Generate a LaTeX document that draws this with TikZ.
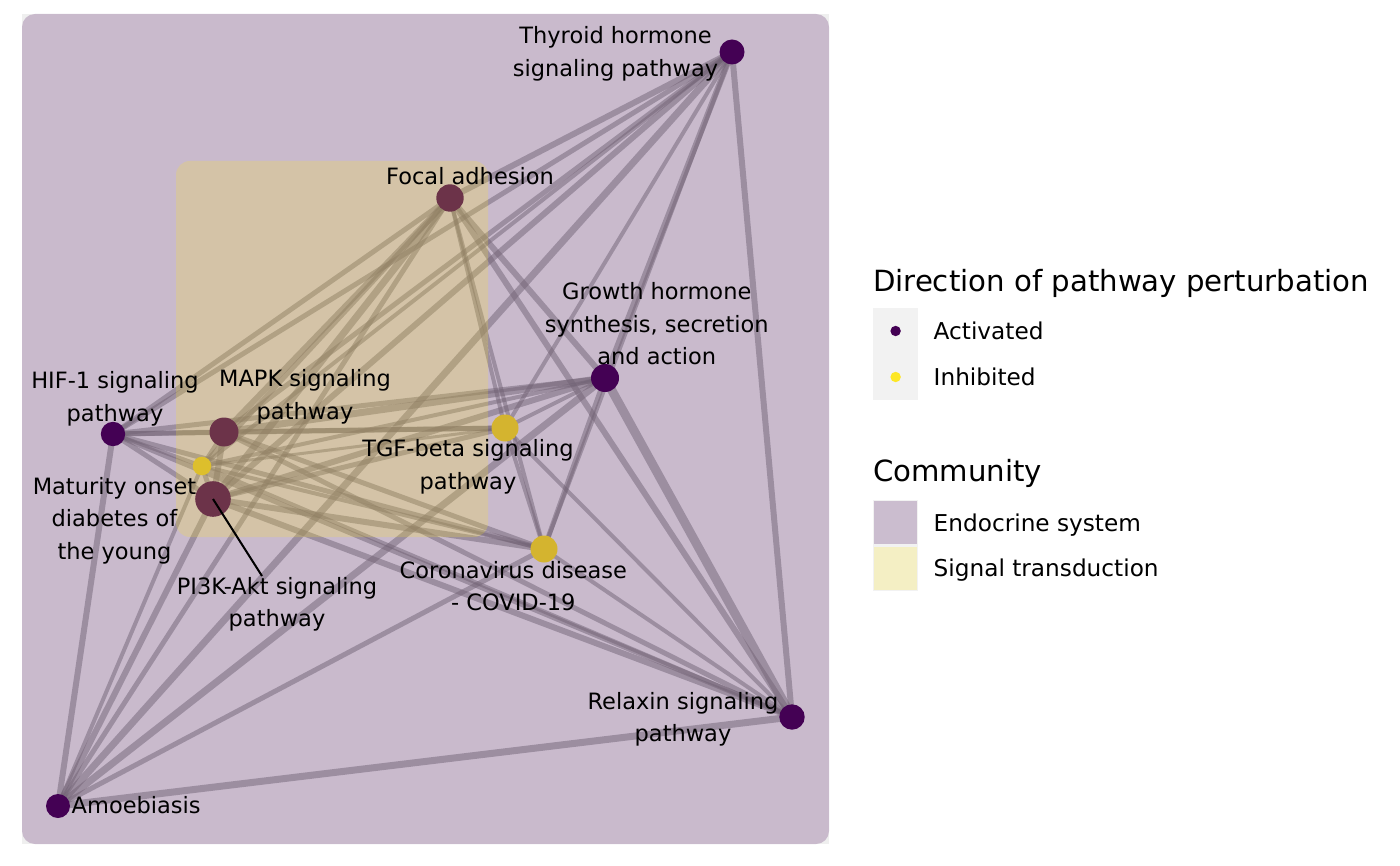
\documentclass[tikz,border=0pt]{standalone}
\usepackage{fontspec}
\setmainfont{DejaVu Sans}
\pgfdeclarelayer{bglayer}
\pgfdeclarelayer{edgelayer}
\pgfdeclarelayer{hulllayer}
\pgfdeclarelayer{toplayer}
\pgfsetlayers{bglayer,edgelayer,main,hulllayer,toplayer}
\definecolor{act}{HTML}{440154}
\definecolor{inh}{HTML}{FDE725}
\definecolor{panelbg}{HTML}{EFEFEF}
\definecolor{keybg}{HTML}{F2F2F2}
\definecolor{edgecol}{HTML}{7F7F7F}
\tikzset{
  pnode/.style={circle, inner sep=0pt, draw=none},
  lbl/.style={anchor=base, inner sep=0pt, font=\fontsize{22.5}{26}\selectfont},
  lgtitle/.style={anchor=base west, inner sep=0pt, font=\fontsize{29.2}{34}\selectfont},
  lgtext/.style={anchor=base west, inner sep=0pt, font=\fontsize{23.2}{27}\selectfont},
  edge/.style={draw=edgecol, draw opacity=0.5},
  hullfill/.style={fill opacity=0.22}
}
\begin{document}
\begin{tikzpicture}[x=1pt,y=-1pt]
\useasboundingbox (0,0) rectangle (1400,866);
\begin{pgfonlayer}{bglayer}
\fill[white] (0,0) rectangle (1400,866);
\fill[panelbg] (22,14) rectangle (829,844);
\end{pgfonlayer}

% pathway nodes
\node[pnode, fill=act, minimum size=25pt]   (T) at (732,52) {};
\node[pnode, fill=act, minimum size=27.4pt] (F) at (450,198) {};
\node[pnode, fill=act, minimum size=28pt]   (G) at (605,378) {};
\node[pnode, fill=act, minimum size=24.4pt] (H) at (113,434) {};
\node[pnode, fill=act, minimum size=29pt]   (M) at (224,432) {};
\node[pnode, fill=inh, minimum size=27pt]   (B) at (505,428) {};
\node[pnode, fill=inh, minimum size=18.6pt] (D) at (202,466) {};
\node[pnode, fill=act, minimum size=35.6pt] (P) at (213,499) {};
\node[pnode, fill=inh, minimum size=27pt]   (C) at (544,549) {};
\node[pnode, fill=act, minimum size=25.4pt] (R) at (792,717) {};
\node[pnode, fill=act, minimum size=24pt]   (A) at (58,806) {};

% edges
\begin{pgfonlayer}{edgelayer}
\foreach \a/\b/\w in {T/R/6, T/G/6, T/C/4, T/B/4, T/F/6, T/H/5, T/M/5, T/P/6, T/D/4, T/A/7,
  F/H/5, F/M/6, F/P/7, F/D/5, F/A/5, F/B/4, F/C/4, F/G/6, F/R/6,
  G/H/5, G/M/7, G/P/6, G/D/4, G/B/4, G/C/5, G/R/9, G/A/7,
  H/M/5, H/B/5, H/P/5, H/D/4, H/C/5, H/R/5, H/A/6,
  M/B/5, M/P/6, M/D/4, M/C/5, M/R/5,
  P/B/5, P/D/5, P/C/6, P/R/6, P/A/6,
  D/B/3, D/C/4, D/R/4, D/A/4,
  B/C/4, B/R/4, C/R/4, C/A/5, R/A/7}
  \draw[edge, line width=\w pt] (\a.center) -- (\b.center);
\end{pgfonlayer}

% community hulls
\begin{pgfonlayer}{hulllayer}
\fill[act, hullfill, rounded corners=13pt] (22,14) rectangle (829,844);
\fill[inh, hullfill, rounded corners=14pt] (176,161) rectangle (488,537);
\end{pgfonlayer}

% labels
\begin{pgfonlayer}{toplayer}
\coordinate (pilead) at (262,576);
\draw[black, line width=2pt] (P.center) -- (pilead);
\node[lbl] (tl1) at (615.5,43.3) {Thyroid hormone};
\node[lbl] (tl2) at (615.5,76.3) {signaling pathway};
\node[lbl] (fl1) at (470,185) {Focal adhesion};
\node[lbl] (gl1) at (656.7,300) {Growth hormone};
\node[lbl] (gl2) at (656.7,332.5) {synthesis, secretion};
\node[lbl] (gl3) at (656.7,365) {and action};
\node[lbl] (hl1) at (115,388.5) {HIF-1 signaling};
\node[lbl] (hl2) at (115,421) {pathway};
\node[lbl] (ml1) at (305,387) {MAPK signaling};
\node[lbl] (ml2) at (305,419.5) {pathway};
\node[lbl] (bl1) at (468,456.7) {TGF-beta signaling};
\node[lbl] (bl2) at (468,489.3) {pathway};
\node[lbl] (dl1) at (114.5,494) {Maturity onset};
\node[lbl] (dl2) at (114.5,526.7) {diabetes of};
\node[lbl] (dl3) at (114.5,559.3) {the young};
\node[lbl] (pl1) at (277,594) {PI3K-Akt signaling};
\node[lbl] (pl2) at (277,626.7) {pathway};
\node[lbl] (cl1) at (513.3,578.3) {Coronavirus disease};
\node[lbl] (cl2) at (513.3,610.7) {- COVID-19};
\node[lbl] (rl1) at (683,709.3) {Relaxin signaling};
\node[lbl] (rl2) at (683,741.7) {pathway};
\node[lbl, anchor=base west] (al1) at (71.5,813.3) {Amoebiasis};
\end{pgfonlayer}

% legend
\node[lgtitle] (lg1) at (872.8,291.7) {Direction of pathway perturbation};
\fill[keybg] (872.8,308.3) rectangle (918.4,400);
\node[pnode, fill=act, minimum size=10.4pt] (ka) at (895.6,331) {};
\node[pnode, fill=inh, minimum size=10.4pt] (ki) at (895.6,377) {};
\node[lgtext] (lga) at (933.5,340) {Activated};
\node[lgtext] (lgi) at (933.5,386) {Inhibited};

\node[lgtitle] (lg2) at (872.8,481.7) {Community};
\fill[keybg] (872.8,499.5) rectangle (918.4,591);
\fill[act, hullfill] (874.2,501) rectangle (917,544);
\fill[inh, hullfill] (874.2,547) rectangle (917,589.7);
\node[lgtext] (lge) at (933.5,531.7) {Endocrine system};
\node[lgtext] (lgs) at (933.5,576.7) {Signal transduction};
\end{tikzpicture}
\end{document}
